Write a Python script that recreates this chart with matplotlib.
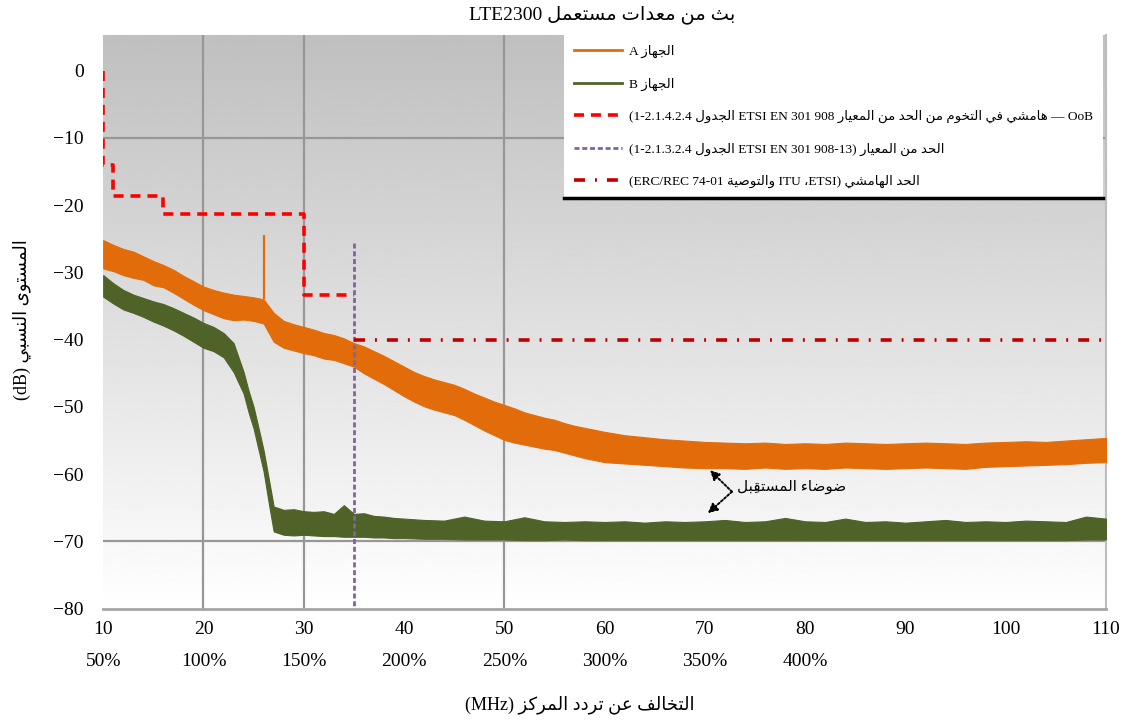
import matplotlib
matplotlib.use("Agg")
import matplotlib.pyplot as plt
import numpy as np
from matplotlib.lines import Line2D

plt.rcParams['font.family'] = ['Liberation Serif', 'DejaVu Sans']
plt.rcParams['lines.scale_dashes'] = False

# Arabic letter forms: isolated, final, initial, medial
FORMS = {
    '\u0621': ('\uFE80',),
    '\u0627': ('\uFE8D', '\uFE8E'),
    '\u0628': ('\uFE8F', '\uFE90', '\uFE91', '\uFE92'),
    '\u0629': ('\uFE93', '\uFE94'),
    '\u062A': ('\uFE95', '\uFE96', '\uFE97', '\uFE98'),
    '\u062B': ('\uFE99', '\uFE9A', '\uFE9B', '\uFE9C'),
    '\u062C': ('\uFE9D', '\uFE9E', '\uFE9F', '\uFEA0'),
    '\u062D': ('\uFEA1', '\uFEA2', '\uFEA3', '\uFEA4'),
    '\u062E': ('\uFEA5', '\uFEA6', '\uFEA7', '\uFEA8'),
    '\u062F': ('\uFEA9', '\uFEAA'),
    '\u0630': ('\uFEAB', '\uFEAC'),
    '\u0631': ('\uFEAD', '\uFEAE'),
    '\u0632': ('\uFEAF', '\uFEB0'),
    '\u0633': ('\uFEB1', '\uFEB2', '\uFEB3', '\uFEB4'),
    '\u0634': ('\uFEB5', '\uFEB6', '\uFEB7', '\uFEB8'),
    '\u0635': ('\uFEB9', '\uFEBA', '\uFEBB', '\uFEBC'),
    '\u0636': ('\uFEBD', '\uFEBE', '\uFEBF', '\uFEC0'),
    '\u0637': ('\uFEC1', '\uFEC2', '\uFEC3', '\uFEC4'),
    '\u0639': ('\uFEC9', '\uFECA', '\uFECB', '\uFECC'),
    '\u0641': ('\uFED1', '\uFED2', '\uFED3', '\uFED4'),
    '\u0642': ('\uFED5', '\uFED6', '\uFED7', '\uFED8'),
    '\u0643': ('\uFED9', '\uFEDA', '\uFEDB', '\uFEDC'),
    '\u0644': ('\uFEDD', '\uFEDE', '\uFEDF', '\uFEE0'),
    '\u0645': ('\uFEE1', '\uFEE2', '\uFEE3', '\uFEE4'),
    '\u0646': ('\uFEE5', '\uFEE6', '\uFEE7', '\uFEE8'),
    '\u0647': ('\uFEE9', '\uFEEA', '\uFEEB', '\uFEEC'),
    '\u0648': ('\uFEED', '\uFEEE'),
    '\u0649': ('\uFEEF', '\uFEF0'),
    '\u064A': ('\uFEF1', '\uFEF2', '\uFEF3', '\uFEF4'),
}
MARKS = set('\u064B\u064C\u064D\u064E\u064F\u0650\u0651\u0652')


def joins_next(c):
    return c in FORMS and len(FORMS[c]) == 4


def ar(text):
    """Shape an Arabic phrase and return it in left-to-right drawing order."""
    chars = list(text)
    n = len(chars)
    clusters = []
    i = 0
    while i < n:
        c = chars[i]
        if c in FORMS:
            j = i - 1
            while j >= 0 and chars[j] in MARKS:
                j -= 1
            prev = chars[j] if j >= 0 else ''
            k = i + 1
            while k < n and chars[k] in MARKS:
                k += 1
            nxt = chars[k] if k < n else ''
            pj = joins_next(prev)
            if c == '\u0644' and nxt == '\u0627':
                clusters.append('\uFEFC' if pj else '\uFEFB')
                i = k + 1
                continue
            nj = joins_next(c) and nxt in FORMS
            f = FORMS[c]
            if len(f) == 1:
                g = f[0]
            elif pj and nj:
                g = f[3]
            elif pj:
                g = f[1]
            elif nj:
                g = f[2]
            else:
                g = f[0]
            clusters.append(g)
        elif c in MARKS and clusters:
            clusters[-1] += c
        else:
            clusters.append(c)
        i += 1
    return ''.join(reversed(clusters))


# Device A trace (upper / lower edge of the noisy band), dB
freq_a = [10, 11, 12, 13, 14, 15, 16, 17, 18, 19, 20, 21, 22, 23, 24, 25, 26,
          27, 28, 29, 30, 31, 32, 33, 34, 35, 36, 37, 38, 39, 40, 41, 42, 43,
          44, 45, 46, 47, 48, 49, 50, 51, 52, 53, 54, 55, 56, 57, 58, 59, 60,
          62, 64, 66, 68, 70, 72, 74, 76, 78, 80, 82, 84, 86, 88, 90, 92, 94,
          96, 98, 100, 102, 104, 106, 108, 110]
upper_a = [-25.2, -25.9, -26.5, -26.9, -27.6, -28.3, -28.9, -29.6, -30.5, -31.3,
           -32.1, -32.6, -33.0, -33.3, -33.5, -33.7, -34.0, -36.0, -37.2, -37.7,
           -38.1, -38.5, -39.0, -39.3, -39.8, -40.5, -41.0, -41.7, -42.4, -43.2,
           -44.0, -44.8, -45.4, -45.9, -46.3, -46.7, -47.3, -48.0, -48.6, -49.2,
           -49.7, -50.2, -50.8, -51.2, -51.6, -51.9, -52.4, -52.8, -53.1, -53.4,
           -53.7, -54.2, -54.5, -54.8, -55.0, -55.2, -55.3, -55.4, -55.3, -55.5,
           -55.4, -55.5, -55.3, -55.4, -55.5, -55.4, -55.3, -55.4, -55.5, -55.3,
           -55.2, -55.1, -55.2, -55.0, -54.8, -54.6]
lower_a = [-29.4, -29.8, -30.4, -30.8, -31.1, -31.9, -32.2, -33.0, -33.9, -34.8,
           -35.6, -36.2, -36.8, -37.1, -37.0, -37.2, -37.6, -40.3, -41.2, -41.6,
           -42.0, -42.3, -42.8, -43.0, -43.5, -44.0, -45.0, -45.8, -46.6, -47.5,
           -48.4, -49.2, -49.9, -50.4, -50.8, -51.2, -51.9, -52.7, -53.5, -54.2,
           -54.9, -55.3, -55.6, -55.9, -56.2, -56.4, -56.8, -57.2, -57.6, -57.9,
           -58.2, -58.4, -58.6, -58.8, -59.0, -59.1, -59.1, -59.2, -59.0, -59.2,
           -59.1, -59.2, -59.0, -59.1, -59.2, -59.1, -59.0, -59.1, -59.2, -58.9,
           -58.8, -58.7, -58.6, -58.5, -58.3, -58.2]
spike_f = 26.0
spike_top = -24.4

# Device B trace
freq_b = [10, 11, 12, 13, 14, 15, 16, 17, 18, 19, 20, 21, 22, 23, 24, 24.5, 25,
          25.5, 26, 26.5, 27, 28, 29, 30, 31, 32, 33, 34, 35, 36, 37, 38, 39,
          40, 42, 44, 46, 48, 50, 52, 54, 56, 58, 60, 62, 64, 66, 68, 70, 72,
          74, 76, 78, 80, 82, 84, 86, 88, 90, 92, 94, 96, 98, 100, 102, 104,
          106, 108, 110]
upper_b = [-30.4, -31.6, -32.6, -33.3, -33.8, -34.3, -34.7, -35.3, -36.0, -36.7,
           -37.5, -38.1, -39.0, -40.5, -44.8, -47.6, -50.0, -53.2, -56.5, -60.6,
           -64.8, -65.3, -65.2, -65.5, -65.6, -65.5, -65.9, -64.6, -65.9, -65.8,
           -66.2, -66.3, -66.5, -66.6, -66.8, -66.9, -66.3, -66.9, -67.0, -66.4,
           -67.0, -67.1, -67.0, -67.1, -67.0, -67.2, -67.0, -67.1, -67.0, -66.8,
           -67.1, -67.0, -66.5, -67.0, -67.1, -66.6, -67.1, -67.0, -67.2, -67.0,
           -66.8, -67.1, -67.0, -67.1, -66.9, -67.0, -67.1, -66.3, -66.6]
lower_b = [-33.6, -34.6, -35.5, -36.0, -36.6, -37.3, -37.9, -38.6, -39.4, -40.3,
           -41.2, -41.7, -42.6, -44.8, -48.0, -50.8, -53.2, -56.4, -59.6, -64.2,
           -68.5, -69.0, -69.1, -69.0, -69.1, -69.2, -69.2, -69.3, -69.3, -69.3,
           -69.4, -69.4, -69.5, -69.5, -69.6, -69.6, -69.7, -69.7, -69.7, -69.8,
           -69.8, -69.7, -69.8, -69.8, -69.8, -69.8, -69.8, -69.8, -69.8, -69.8,
           -69.8, -69.8, -69.8, -69.8, -69.8, -69.8, -69.8, -69.8, -69.8, -69.8,
           -69.8, -69.8, -69.8, -69.8, -69.8, -69.8, -69.8, -69.7, -69.7]

# limits
oob_f = [10, 10, 11, 11, 16, 16, 30, 30, 35]
oob_db = [0, -14.0, -14.0, -18.6, -18.6, -21.3, -21.3, -33.3, -33.3]
etsi_f = 35
etsi_db = [-25.6, -80]
spur_f = [35, 110]
spur_db = [-40, -40]

xticks = [10, 20, 30, 40, 50, 60, 70, 80, 90, 100, 110]
pct_labels = ['50%', '100%', '150%', '200%', '250%', '300%', '350%', '400%']
yticks = [0, -10, -20, -30, -40, -50, -60, -70, -80]

orange = '#e36c0a'
green = '#4f6228'

fig = plt.figure(figsize=(11.28, 7.21), dpi=100)
ax = fig.add_axes([103.2 / 1128, 1 - 608.75 / 721, 1002.8 / 1128, 573.75 / 721])
ax.set_xlim(10, 110)
ax.set_ylim(-80, 5.3)

# grey-to-white backdrop
grad = np.linspace(1.0, 0.75, 256).reshape(-1, 1)
ax.imshow(grad, cmap='gray', vmin=0, vmax=1, aspect='auto',
          extent=[10, 110, -80, 5.3], origin='lower', zorder=0)

for gx in [20, 30, 50]:
    ax.axvline(gx, color='#979797', lw=1.6, zorder=1)
for gy in [-10, -70]:
    ax.axhline(gy, color='#979797', lw=1.6, zorder=1)

ax.fill_between(freq_a, lower_a, upper_a, color=orange, lw=0.8, zorder=3)
ax.vlines(spike_f, -34.0, spike_top, color=orange, lw=1.6, zorder=3)
ax.fill_between(freq_b, lower_b, upper_b, color=green, lw=0.8, zorder=3)

oob_line, = ax.plot(oob_f, oob_db, color='#ff0000', lw=2.6, dashes=(7.2, 5),
                    zorder=4)
etsi_line, = ax.plot([etsi_f, etsi_f], etsi_db, color='#8064a2', lw=2.0,
                     dashes=(3.6, 2.0), zorder=4)
spur_line, = ax.plot(spur_f, spur_db, color='#c00000', lw=2.6,
                     dashes=(7.9, 7.2, 1.4, 7.2), zorder=4)

# receiver noise callout
ax.text(73.2, -61.9, ar('ضوضاء المستقبِل'), fontsize=11, ha='left',
        va='center', zorder=6)
for tip in [(70.5, -59.4), (70.3, -65.8)]:
    ax.annotate('', xy=tip, xytext=(72.7, -62.6),
                arrowprops=dict(arrowstyle='-|>', color='black', lw=1.4,
                                linestyle=(0, (1.5, 1.5)), mutation_scale=14,
                                shrinkA=0, shrinkB=0), zorder=6)

ax.set_xticks(xticks)
ax.set_xticklabels([str(v) for v in xticks], fontsize=14)
ax.set_yticks(yticks)
ax.set_yticklabels([str(v).replace('-', '\u2212') for v in yticks], fontsize=14)
ax.tick_params(axis='both', length=0)
ax.tick_params(axis='x', pad=9)
ax.tick_params(axis='y', pad=14)

for f, lbl in zip(xticks, pct_labels):
    ax.annotate(lbl, xy=(f, 0), xycoords=('data', 'axes fraction'),
                xytext=(0, -38), textcoords='offset points', ha='center',
                va='center', fontsize=14)

for side in ['top', 'left']:
    ax.spines[side].set_visible(False)
ax.spines['bottom'].set_color('#a6a6a6')
ax.spines['bottom'].set_linewidth(2)
ax.spines['right'].set_color('#bdbdbd')
ax.spines['right'].set_linewidth(1.5)

handles = [Line2D([], [], color=orange, lw=2),
           Line2D([], [], color=green, lw=2),
           oob_line, etsi_line, spur_line]
labels = [
    'A ' + ar('الجهاز'),
    'B ' + ar('الجهاز'),
    '(1-2.1.4.2.4 ' + ar('الجدول') + ' ETSI EN 301 908 '
    + ar('هامشي في التخوم من الحد من المعيار') + ' \u2014 OoB',
    '(1-2.1.3.2.4 ' + ar('الجدول') + ' ETSI EN 301 908-13) '
    + ar('الحد من المعيار'),
    '(ERC/REC 74-01 ' + ar('والتوصية') + ' ITU \u060CETSI) '
    + ar('الحد الهامشي'),
]
leg = ax.legend(handles, labels, loc='upper right', bbox_to_anchor=(0.997, 1.0),
                borderaxespad=0, fontsize=9.6, handlelength=3.6,
                handletextpad=0.5, labelspacing=1.45, borderpad=0.75,
                frameon=True, fancybox=False, framealpha=1)
leg.get_frame().set_facecolor('white')
leg.get_frame().set_edgecolor('none')
leg.set_zorder(7)

fig.text(602 / 1128, 1 - 15 / 721, 'LTE2300 ' + ar('بث من معدات مستعمل'),
         ha='center', va='center', fontsize=14)
fig.text(580 / 1128, 1 - 705 / 721, '(MHz) ' + ar('التخالف عن تردد المركز'),
         ha='center', va='center', fontsize=13)
fig.text(22 / 1128, 1 - 320 / 721, '(dB) ' + ar('المستوى النسبي'),
         ha='center', va='center', rotation=90, fontsize=13)

# heavy rule under the legend box
fig.canvas.draw()
bb = leg.get_window_extent().transformed(fig.transFigure.inverted())
fig.add_artist(Line2D([bb.x0, bb.x1], [bb.y0, bb.y0], color='black', lw=2.5,
                      transform=fig.transFigure, zorder=8))

fig.savefig('out.png', dpi=100)
